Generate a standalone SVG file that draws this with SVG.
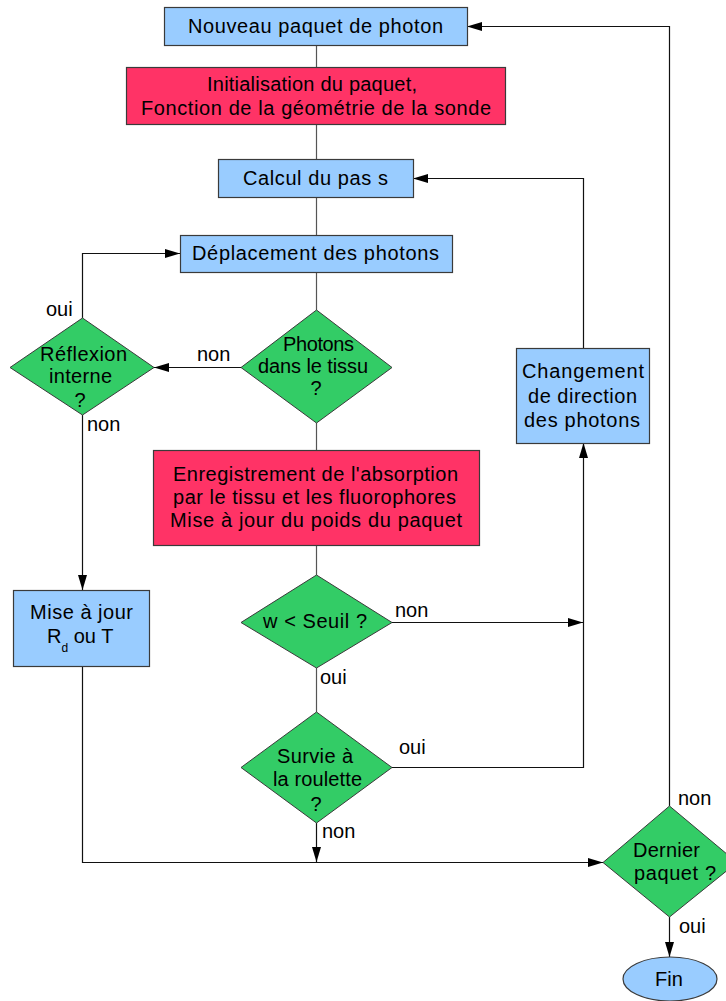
<svg xmlns="http://www.w3.org/2000/svg" width="726" height="1001" viewBox="0 0 726 1001">
<style>
text{font-family:"Liberation Sans",Arial,sans-serif;font-size:20px;fill:#000}
.c{text-anchor:middle}
.blue{fill:#99CCFF;stroke:#3a3a3a;stroke-width:1.2}
.red{fill:#FF3366;stroke:#3a3a3a;stroke-width:1.2}
.green{fill:#33CC66;stroke:#3a3a3a;stroke-width:1}
.ln{fill:none;stroke:#555;stroke-width:1.2}
.ar{fill:none;stroke:#111;stroke-width:1.2;marker-end:url(#ah)}
.lk{fill:none;stroke:#111;stroke-width:1.2}
</style>
<defs>
<marker id="ah" markerUnits="userSpaceOnUse" markerWidth="16" markerHeight="10" refX="15" refY="4.5" orient="auto">
<path d="M0,0 L15,4.5 L0,9 z" fill="#000"/>
</marker>
</defs>
<rect width="726" height="1001" fill="#fff"/>
<g id="connectors">
<path class="ln" d="M316.5,45 V67"/>
<path class="ln" d="M316.5,124 V159"/>
<path class="ln" d="M316.5,197 V235"/>
<path class="ln" d="M316.5,272 V310"/>
<path class="ar" d="M241,367.5 H154"/>
<path class="ar" d="M82.5,318 V253.5 H180"/>
<path class="ar" d="M82.5,415 V590"/>
<path class="ln" d="M316.5,423 V450"/>
<path class="ln" d="M316.5,545 V575"/>
<path class="ar" d="M392,622.5 H583"/>
<path class="ln" d="M316.5,668 V712"/>
<path class="ar" d="M392,767.5 H583.5 V443"/>
<path class="ar" d="M583.5,348 V178.5 H413"/>
<path class="ar" d="M316.5,823 V862"/>
<path class="ar" d="M82.5,666 V862.5 H603"/>
<path class="ar" d="M669.5,806 V26.5 H467"/>
<path class="ar" d="M669.5,917 V957"/>
<text x="197" y="361">non</text>
<text x="46" y="316">oui</text>
<text x="87" y="431">non</text>
<text x="395" y="617">non</text>
<text x="320" y="684">oui</text>
<text x="399" y="754">oui</text>
<text x="322" y="838">non</text>
<text x="678" y="805">non</text>
<text x="679" y="933">oui</text>
</g>
<g id="n_nouveau">
<rect class="blue" x="164.5" y="7.5" width="303" height="38"/>
<text class="c" x="315.5" y="33" textLength="255" lengthAdjust="spacing">Nouveau paquet de photon</text>
</g>
<g id="n_init">
<rect class="red" x="126.5" y="67.5" width="379" height="57"/>
<text class="c" x="312" y="91" textLength="210" lengthAdjust="spacing">Initialisation du paquet,</text>
<text class="c" x="316" y="115" textLength="350" lengthAdjust="spacing">Fonction de la géométrie de la sonde</text>
</g>
<g id="n_calcul">
<rect class="blue" x="218.5" y="159.5" width="195" height="38"/>
<text class="c" x="315.5" y="185" textLength="145" lengthAdjust="spacing">Calcul du pas s</text>
</g>
<g id="n_deplacement">
<rect class="blue" x="180.5" y="235.5" width="272" height="37"/>
<text class="c" x="315.5" y="260" textLength="247" lengthAdjust="spacing">Déplacement des photons</text>
</g>
<g id="n_photons">
<polygon class="green" points="316.5,310 392,367.5 316.5,423 241,367.5"/>
<text class="c" x="318.5" y="351" textLength="71" lengthAdjust="spacing">Photons</text>
<text class="c" x="313" y="373" textLength="110" lengthAdjust="spacing">dans le tissu</text>
<text class="c" x="316" y="395">?</text>
</g>
<g id="n_reflexion">
<polygon class="green" points="82.5,318 154,367.5 82.5,415 10,367.5"/>
<text class="c" x="83.5" y="361" textLength="87" lengthAdjust="spacing">Réflexion</text>
<text class="c" x="80.5" y="383" textLength="63" lengthAdjust="spacing">interne</text>
<text class="c" x="80" y="407">?</text>
</g>
<g id="n_enregistrement">
<rect class="red" x="153.5" y="450.5" width="326" height="95"/>
<text class="c" x="315.5" y="481" textLength="285" lengthAdjust="spacing">Enregistrement de l'absorption</text>
<text class="c" x="314.5" y="504" textLength="283" lengthAdjust="spacing">par le tissu et les fluorophores</text>
<text class="c" x="316" y="527" textLength="292" lengthAdjust="spacing">Mise à jour du poids du paquet</text>
</g>
<g id="n_miseajour">
<rect class="blue" x="13.5" y="590.5" width="136" height="76"/>
<text class="c" x="81.5" y="619" textLength="103" lengthAdjust="spacing">Mise à jour</text>
<text x="47" y="643">R<tspan font-size="12" dy="9">d</tspan><tspan dy="-9"> ou T</tspan></text>
</g>
<g id="n_changement">
<rect class="blue" x="516.5" y="348.5" width="133" height="95"/>
<text class="c" x="583" y="378" textLength="122" lengthAdjust="spacing">Changement</text>
<text class="c" x="582.5" y="403" textLength="109" lengthAdjust="spacing">de direction</text>
<text class="c" x="582" y="427" textLength="116" lengthAdjust="spacing">des photons</text>
</g>
<g id="n_seuil">
<polygon class="green" points="316.5,575 392,622.5 316.5,668 241,622.5"/>
<text class="c" x="315" y="628" textLength="104" lengthAdjust="spacing">w &lt; Seuil ?</text>
</g>
<g id="n_survie">
<polygon class="green" points="316.5,712 392,767.5 316.5,823 241,767.5"/>
<text class="c" x="315" y="763" textLength="76" lengthAdjust="spacing">Survie à</text>
<text class="c" x="317.5" y="786" textLength="89" lengthAdjust="spacing">la roulette</text>
<text class="c" x="316" y="811">?</text>
</g>
<g id="n_dernier">
<polygon class="green" points="669.5,806 737,862.5 669.5,917 603,862.5"/>
<text class="c" x="666.5" y="857" textLength="67" lengthAdjust="spacing">Dernier</text>
<text class="c" x="675" y="880" textLength="82" lengthAdjust="spacing">paquet ?</text>
</g>
<g id="n_fin">
<ellipse class="blue" cx="670" cy="979" rx="47" ry="22"/>
<text class="c" x="669" y="986">Fin</text>
</g>
</svg>
